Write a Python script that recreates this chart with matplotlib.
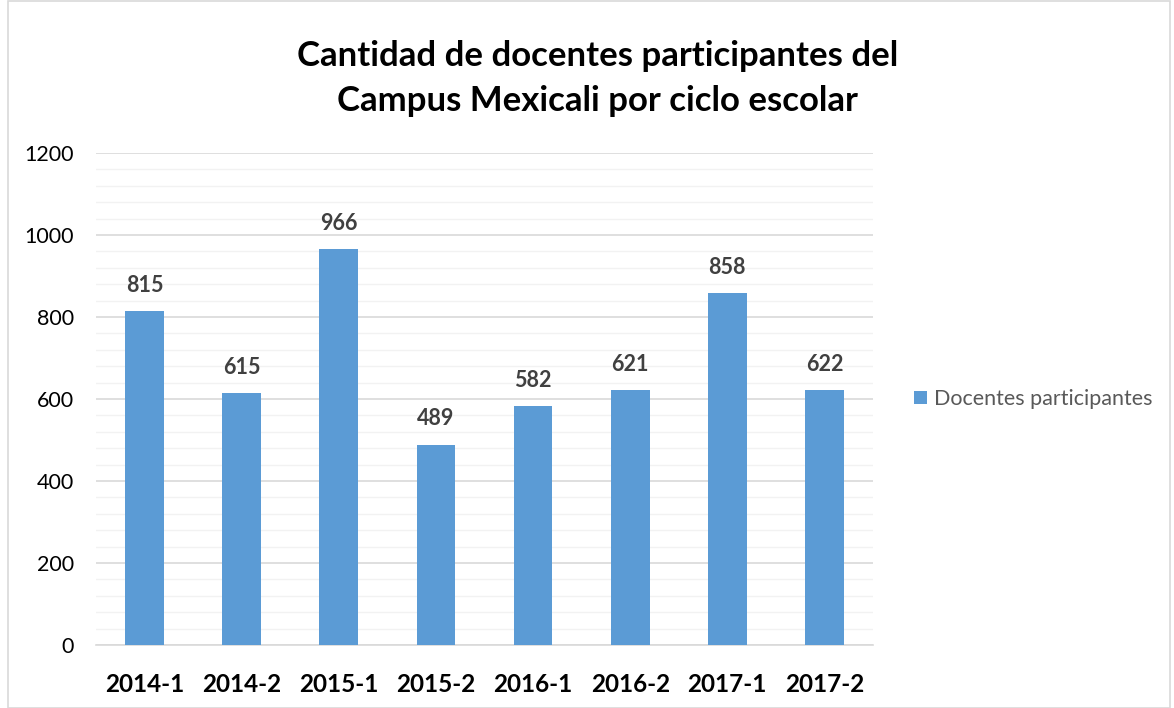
import matplotlib
matplotlib.use("Agg")
import matplotlib.pyplot as plt
from matplotlib.patches import Rectangle

categories = ["2014-1", "2014-2", "2015-1", "2015-2", "2016-1", "2016-2", "2017-1", "2017-2"]
values = [815, 615, 966, 489, 582, 621, 858, 622]
series_name = "Docentes participantes"
title = "Cantidad de docentes participantes del\nCampus Mexicali por ciclo escolar"

plt.rcParams['font.family'] = ['Lato', 'DejaVu Sans']

fig = plt.figure(figsize=(11.74, 7.08), dpi=100)
ax = fig.add_axes([0.0818, 0.0890, 0.6618, 0.6949])

x = list(range(len(categories)))
bars = ax.bar(x, values, width=0.4, color="#5B9BD5", label=series_name, zorder=3)

ax.set_xlim(-0.5, len(categories) - 0.5)
ax.set_ylim(0, 1200)
ax.set_yticks(range(0, 1201, 200))
ax.set_yticks(range(0, 1201, 40), minor=True)
ax.grid(axis='y', which='major', color='#D9D9D9', linewidth=1.2, zorder=0)
ax.grid(axis='y', which='minor', color='#F2F2F2', linewidth=1.0, zorder=0)
ax.tick_params(axis='y', which='both', length=0, labelsize=15.5, colors='#000000', pad=16)
ax.tick_params(axis='x', length=0, labelsize=17.5, pad=20)
ax.set_xticks(x)
ax.set_xticklabels(categories, fontweight='bold')
for s in ['top', 'right', 'left']:
    ax.spines[s].set_visible(False)
ax.spines['bottom'].set_color('#D9D9D9')
ax.spines['bottom'].set_linewidth(1.2)

for xi, v in zip(x, values):
    ax.annotate(str(v), (xi, v), xytext=(0, 11), textcoords='offset points',
                ha='center', va='bottom', fontsize=15.5, fontweight='bold', color='#404040')

fig.text(0.509, 0.944, title, ha='center', va='top', fontsize=25, fontweight='bold',
         linespacing=1.5)

leg = ax.legend(loc='center left', bbox_to_anchor=(1.053, 0.5), frameon=False,
                fontsize=15.5, handlelength=0.6, handleheight=0.6, handletextpad=0.3,
                borderpad=0, borderaxespad=0, labelcolor='#595959')

fig.patches.append(Rectangle((0.007, 0.0), 0.99, 0.999, transform=fig.transFigure,
                             fill=False, edgecolor='#D9D9D9', linewidth=1.2))

fig.savefig("out.png", dpi=100, facecolor='white')
